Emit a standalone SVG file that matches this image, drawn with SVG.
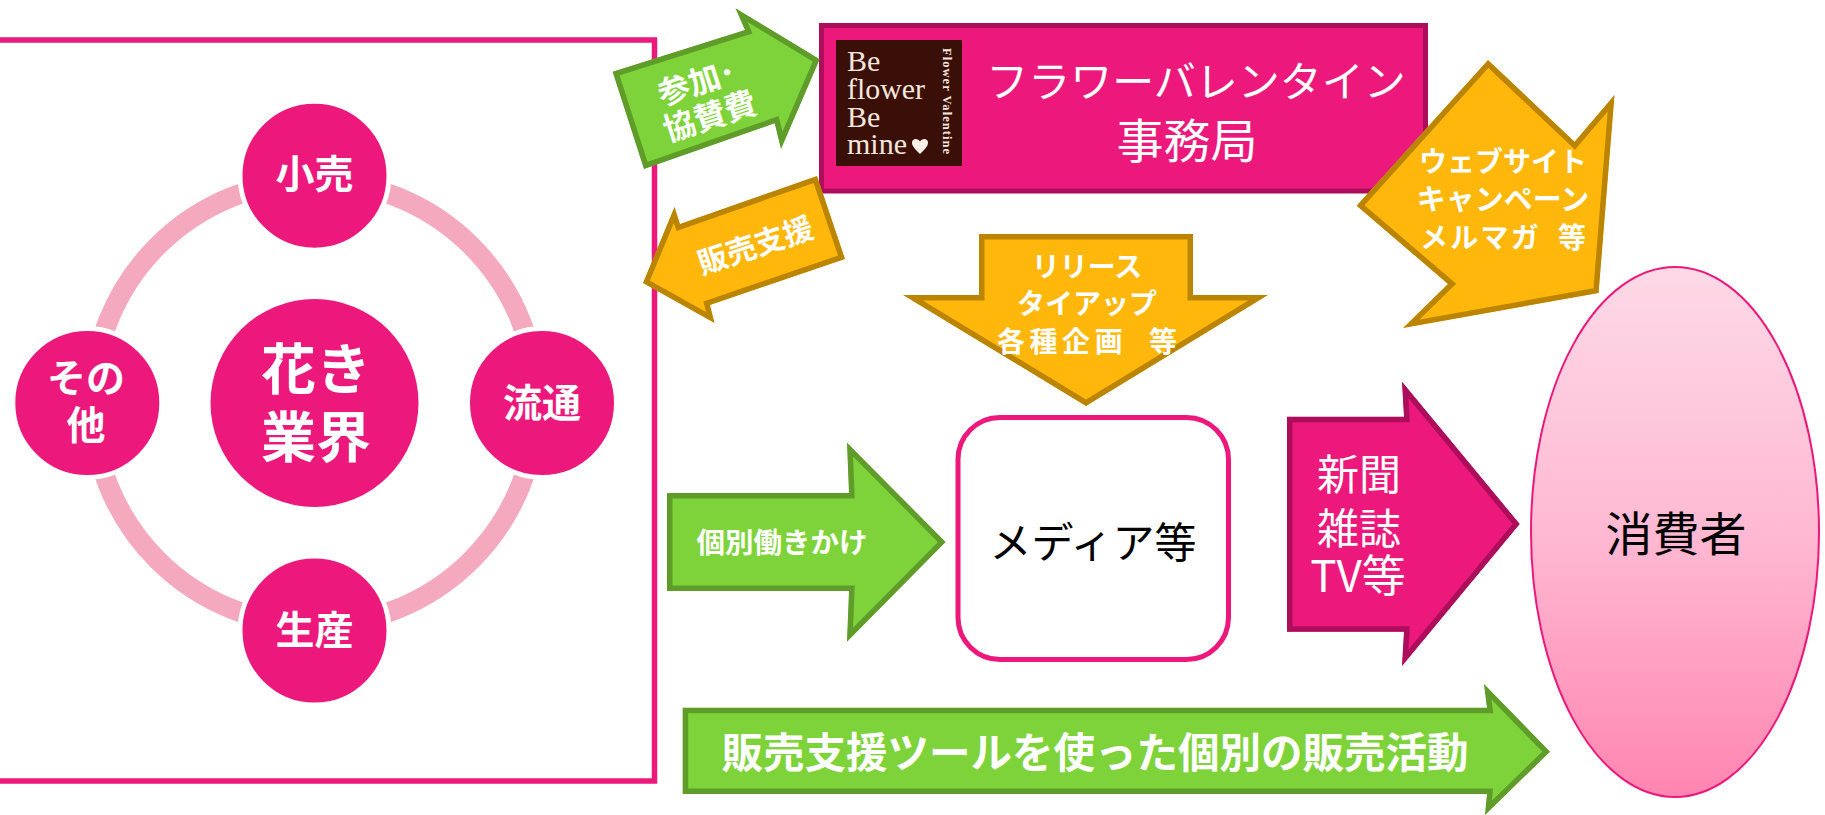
<svg xmlns="http://www.w3.org/2000/svg" width="1825" height="815" viewBox="0 0 1825 815">
<style>
text{font-family:"Noto Sans CJK JP","Noto Sans",sans-serif;text-anchor:middle;fill:#fff}
.b{font-weight:700}
.k{fill:#000}
.g{fill:#7fd33a;stroke:#5f9c2a;stroke-width:11;stroke-miterlimit:20}
.o{fill:#ffb70b;stroke:#bb8502;stroke-width:11;stroke-miterlimit:20}
.p{fill:#ec187b;stroke:#ad0e5b;stroke-width:11;stroke-miterlimit:20}
.c{fill:#ec187b;stroke:#fff;stroke-width:5}
.logo{font-family:"Liberation Serif",serif;text-anchor:start;fill:#f3e6dd;font-size:30px}
</style>
<defs>
<linearGradient id="eg" x1="0" y1="0" x2="0" y2="1"><stop offset="0" stop-color="#fdd9e6"/><stop offset="0.5" stop-color="#ffb9d3"/><stop offset="1" stop-color="#ff85b0"/></linearGradient>
<clipPath id="ca1"><polygon points="612.6,71.7 745,30 735.5,8.3 819.7,59.3 781,149 774.7,123.3 644,169"/></clipPath>
<clipPath id="ca2"><polygon points="817,176 845,259 710,305 714.5,323 643,283 674.5,207 680,224"/></clipPath>
<clipPath id="ca3"><polygon points="979,234 1193,234 1193,295 1268,295 1086,406 903,295 979,295"/></clipPath>
<clipPath id="ca4"><polygon points="1488,60 1574.6,141.7 1614.5,95 1598.6,293 1403,328 1448,284 1356.6,205.7"/></clipPath>
<clipPath id="ca5"><polygon points="667,493 849,493 847,442.7 945.6,542 847,641.7 849,591 667,591"/></clipPath>
<clipPath id="ca6"><polygon points="1287,416.7 1404,416.7 1402,381.7 1519.7,524 1402,666 1404,631.7 1287,631.7"/></clipPath>
<clipPath id="ca7"><polygon points="682.7,707.7 1487,707.7 1484,684 1550,751.7 1485,815 1487,794 682.7,794"/></clipPath>
</defs>

<g id="frame"><rect x="-6" y="40" width="660.5" height="741" fill="none" stroke="#ec187b" stroke-width="5.5"/></g>

<g id="connectors">
<circle id="ring" cx="314.5" cy="403" r="222" fill="none" stroke="#f4a9be" stroke-width="20"/>
</g>

<g id="center"><circle cx="314.5" cy="403" r="104" fill="#ec187b"/>
<text class="b" x="316" y="389" font-size="55">花き</text><text class="b" x="316" y="457" font-size="55">業界</text></g>
<g id="n-retail"><circle class="c" cx="314.5" cy="175.7" r="74.5"/><text class="b" x="314.5" y="188" font-size="39">小売</text></g>
<g id="n-other"><circle class="c" cx="87.3" cy="403" r="74.5"/><text class="b" x="86" y="392" font-size="39">その</text><text class="b" x="86" y="439" font-size="39">他</text></g>
<g id="n-dist"><circle class="c" cx="542" cy="403" r="74.5"/><text class="b" x="542" y="417" font-size="39">流通</text></g>
<g id="n-prod"><circle class="c" cx="314.5" cy="630.5" r="74.5"/><text class="b" x="314.5" y="644" font-size="39">生産</text></g>

<g id="office"><rect x="821.5" y="25.5" width="604" height="165.5" fill="#ec187b" stroke="#ad0e5b" stroke-width="5"/>
<rect x="836" y="40" width="126" height="126" fill="#3a0f07"/>
<text class="logo" x="847" y="71">Be</text>
<text class="logo" x="847" y="99" textLength="78" lengthAdjust="spacingAndGlyphs">flower</text>
<text class="logo" x="847" y="127">Be</text>
<text class="logo" x="847" y="154" textLength="60" lengthAdjust="spacingAndGlyphs">mine</text>
<path d="M920,154 C914,148 912,146 912,142.500 C912,139 917,137.500 920,141.500 C923,137.500 928,139 928,142.500 C928,146 926,148 920,154Z" fill="#f8efe8"/>
<text class="logo b" transform="translate(943,48) rotate(90)" x="0" y="0" style="font-size:12.500px" textLength="106">Flower Valentine</text>
<text x="1196" y="97" font-size="42">フラワーバレンタイン</text>
<text x="1187" y="158" font-size="47">事務局</text></g>

<g id="a-fee"><polygon class="g" clip-path="url(#ca1)" points="612.6,71.7 745,30 735.5,8.3 819.7,59.3 781,149 774.7,123.3 644,169"/>
<g transform="rotate(-18 700 99)"><text class="b" x="702" y="94" font-size="32">参加･</text><text class="b" x="704" y="130" font-size="32">協賛費</text></g></g>

<g id="a-support"><polygon class="o" clip-path="url(#ca2)" points="817,176 845,259 710,305 714.5,323 643,283 674.5,207 680,224"/>
<text class="b" transform="rotate(-18.500 756 244)" x="755" y="256" font-size="30">販売支援</text></g>

<g id="a-release"><polygon class="o" clip-path="url(#ca3)" points="979,234 1193,234 1193,295 1268,295 1086,406 903,295 979,295"/>
<text class="b" x="1087" y="277" font-size="28">リリース</text><text class="b" x="1087" y="314" font-size="28">タイアップ</text><text class="b" x="1087" y="352" font-size="28" xml:space="preserve" textLength="180">各種企画  等</text></g>

<g id="a-web"><polygon class="o" clip-path="url(#ca4)" points="1488,60 1574.6,141.7 1614.5,95 1598.6,293 1403,328 1448,284 1356.6,205.7"/>
<text class="b" x="1503" y="172" font-size="28">ウェブサイト</text><text class="b" x="1503" y="210" font-size="29">キャンペーン</text><text class="b" x="1503" y="248" font-size="28" xml:space="preserve" textLength="166">メルマガ  等</text></g>

<g id="media"><rect x="958" y="417.500" width="270.500" height="242" rx="42" fill="#fff" stroke="#ec187b" stroke-width="5"/>
<text class="k" x="1093" y="558" font-size="42">メディア等</text></g>

<g id="a-individual"><polygon class="g" clip-path="url(#ca5)" points="667,493 849,493 847,442.7 945.6,542 847,641.7 849,591 667,591"/>
<text class="b" x="782" y="553" font-size="28.500">個別働きかけ</text></g>

<g id="a-press"><polygon class="p" clip-path="url(#ca6)" points="1287,416.7 1404,416.7 1402,381.7 1519.7,524 1402,666 1404,631.7 1287,631.7"/>
<text x="1359" y="490" font-size="42">新聞</text><text x="1359" y="544" font-size="42">雑誌</text><text x="1358" y="592" font-size="44">TV等</text></g>

<g id="a-sales"><polygon class="g" clip-path="url(#ca7)" points="682.7,707.7 1487,707.7 1484,684 1550,751.7 1485,815 1487,794 682.7,794"/>
<text class="b" x="1095" y="768" font-size="41.500">販売支援ツールを使った個別の販売活動</text></g>

<g id="consumer"><ellipse cx="1675" cy="532" rx="144" ry="265" fill="url(#eg)" stroke="#ec187b" stroke-width="2"/>
<text class="k" x="1676" y="551" font-size="47">消費者</text></g>
</svg>
